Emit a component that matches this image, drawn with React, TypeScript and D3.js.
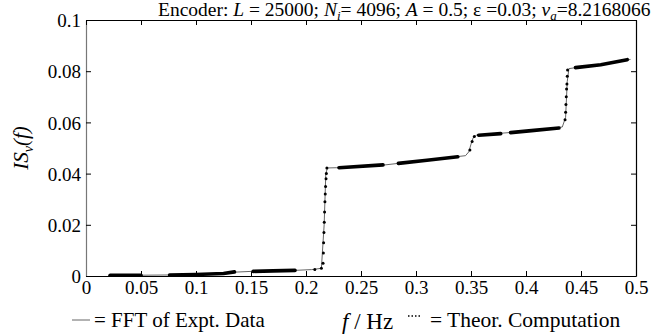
import React, { useEffect, useRef } from 'react';
import * as d3 from 'd3';

const xTicks = [0, 0.05, 0.1, 0.15, 0.2, 0.25, 0.3, 0.35, 0.4, 0.45, 0.5];
const yTicks = [0, 0.02, 0.04, 0.06, 0.08, 0.1];

// FFT of experimental data (thin grey line)
const exptF = [0.02, 0.05, 0.075, 0.1, 0.135, 0.15, 0.19, 0.205, 0.214, 0.2165, 0.218, 0.2195, 0.228, 0.27, 0.3, 0.345, 0.348, 0.35, 0.352, 0.355, 0.39, 0.433, 0.436, 0.4375, 0.439, 0.447, 0.47, 0.495];
const exptV = [0.0003, 0.0003, 0.0004, 0.0006, 0.0015, 0.0018, 0.0022, 0.0025, 0.003, 0.02, 0.04, 0.0422, 0.0423, 0.0433, 0.0448, 0.047, 0.0485, 0.0515, 0.054, 0.055, 0.0562, 0.0582, 0.062, 0.076, 0.081, 0.0815, 0.0828, 0.0846];

// theoretical computation: runs of dense dots
const theorRun1 = [[0.022, 0.0003], [0.05, 0.0003]];
const theorRun2 = [[0.076, 0.0004], [0.1, 0.0006], [0.125, 0.001], [0.135, 0.0016]];
const theorRun3 = [[0.152, 0.0018], [0.17, 0.002], [0.19, 0.0022]];
const theorRun4 = [[0.23, 0.0423], [0.27, 0.0434]];
const theorRun5 = [[0.284, 0.044], [0.31, 0.0452], [0.338, 0.0466]];
const theorRun6 = [[0.357, 0.055], [0.377, 0.0556]];
const theorRun7 = [[0.386, 0.056], [0.405, 0.0568], [0.43, 0.0578]];
const theorRun8 = [[0.445, 0.0814], [0.468, 0.0825], [0.492, 0.0845]];
const theorRuns = [theorRun1, theorRun2, theorRun3, theorRun4, theorRun5, theorRun6, theorRun7, theorRun8];

// single dots along the jumps
const jumpF = [0.208, 0.214, 0.2155, 0.2158, 0.216, 0.2163, 0.2166, 0.2169, 0.2172, 0.2175, 0.2178, 0.2182, 0.2185, 0.219, 0.349, 0.351, 0.353, 0.4355, 0.436, 0.4363, 0.4366, 0.4369, 0.4372, 0.4375, 0.4378];
const jumpV = [0.0025, 0.003, 0.005, 0.009, 0.013, 0.017, 0.021, 0.025, 0.029, 0.032, 0.035, 0.038, 0.04, 0.0422, 0.0492, 0.0525, 0.0545, 0.061, 0.064, 0.067, 0.07, 0.073, 0.075, 0.078, 0.0805];

const serif = '"Liberation Serif", "Times New Roman", serif';

export default function App() {
  const ref = useRef<SVGSVGElement>(null);

  useEffect(() => {
    const width = 664;
    const height = 336;
    const margin = { top: 20, right: 28, bottom: 60, left: 86 };
    const innerWidth = width - margin.left - margin.right;
    const innerHeight = height - margin.top - margin.bottom;

    const svg = d3.select(ref.current).attr('width', width).attr('height', height);
    svg.selectAll('*').remove();

    const g = svg.append('g').attr('transform', `translate(${margin.left}, ${margin.top})`);

    const x = d3.scaleLinear().domain([0, 0.5]).range([0, innerWidth]);
    const y = d3.scaleLinear().domain([0, 0.1]).range([innerHeight, 0]);

    const fmt = (d: d3.NumberValue) => String(+d);

    const xAxis = g.append('g').attr('transform', `translate(0, ${innerHeight})`)
      .call(d3.axisBottom(x).tickValues(xTicks).tickFormat(fmt).tickSizeInner(-5).tickSizeOuter(0).tickPadding(5));
    const yAxis = g.append('g')
      .call(d3.axisLeft(y).tickValues(yTicks).tickFormat(fmt).tickSizeInner(-5).tickSizeOuter(0).tickPadding(5));
    const topAxis = g.append('g')
      .call(d3.axisTop(x).tickValues(xTicks).tickFormat(() => '').tickSizeInner(-5).tickSizeOuter(0));
    const rightAxis = g.append('g').attr('transform', `translate(${innerWidth}, 0)`)
      .call(d3.axisRight(y).tickValues(yTicks).tickFormat(() => '').tickSizeInner(-5).tickSizeOuter(0));

    [xAxis, yAxis, topAxis, rightAxis].forEach(a => {
      a.attr('font-family', null).attr('font-size', null);
      a.selectAll('path').attr('stroke', '#000').attr('stroke-width', 1.2);
      a.selectAll('line').attr('stroke', '#000');
      a.selectAll('text').attr('fill', '#000')
        .style('font-family', serif).style('font-size', '19px');
    });
    yAxis.select('path').attr('stroke', '#777');
    yAxis.selectAll('text').attr('dy', '0.35em');

    // experimental curve
    const line = d3.line<number>().x((_, i) => x(exptF[i])).y(d => y(d));
    g.append('path').datum(exptV).attr('d', line).attr('fill', 'none')
      .attr('stroke', '#555').attr('stroke-width', 0.9);

    // theoretical runs
    const runLine = d3.line<number[]>().x(d => x(d[0])).y(d => y(d[1]));
    g.selectAll('.run').data(theorRuns).join('path').attr('class', 'run')
      .attr('d', runLine).attr('fill', 'none').attr('stroke', '#000')
      .attr('stroke-width', 3.6).attr('stroke-linecap', 'round');

    g.selectAll('.jdot').data(jumpV).join('circle').attr('class', 'jdot')
      .attr('cx', (_, i) => x(jumpF[i])).attr('cy', d => y(d)).attr('r', 1.5).attr('fill', '#000');

    // title
    const title = svg.append('text').attr('x', 158).attr('y', 16)
      .style('font-family', serif).style('font-size', '19.5px').attr('fill', '#000');
    title.append('tspan').text('Encoder: ');
    title.append('tspan').style('font-style', 'italic').text('L');
    title.append('tspan').text(' = 25000; ');
    title.append('tspan').style('font-style', 'italic').text('N');
    title.append('tspan').style('font-style', 'italic').style('font-size', '13px').attr('dy', 4).text('i');
    title.append('tspan').attr('dy', -4).text('= 4096; ');
    title.append('tspan').style('font-style', 'italic').text('A');
    title.append('tspan').text(' = 0.5; ε =0.03; ');
    title.append('tspan').style('font-style', 'italic').text('v');
    title.append('tspan').style('font-style', 'italic').style('font-size', '13px').attr('dy', 4).text('a');
    title.append('tspan').attr('dy', -4).text('=8.2168066');

    // y label
    const ylab = svg.append('text').attr('transform', `translate(28, ${margin.top + y(0.05)}) rotate(-90)`)
      .attr('text-anchor', 'middle').style('font-family', serif).style('font-size', '21px')
      .style('font-style', 'italic').attr('fill', '#000');
    ylab.append('tspan').text('IS');
    ylab.append('tspan').style('font-size', '14px').attr('dy', 5).text('v');
    ylab.append('tspan').attr('dy', -5).text('(f)');

    // bottom legend and x label
    const by = 327;
    svg.append('line').attr('x1', 72).attr('x2', 90).attr('y1', by - 7).attr('y2', by - 7)
      .attr('stroke', '#666').attr('stroke-width', 1);
    svg.append('text').attr('x', 94).attr('y', by).style('font-family', serif).style('font-size', '21px')
      .text('= FFT of Expt. Data');

    const xlab = svg.append('text').attr('x', 342).attr('y', by + 2).style('font-family', serif).style('font-size', '23px');
    xlab.append('tspan').style('font-style', 'italic').text('f');
    xlab.append('tspan').text(' / Hz');

    svg.append('line').attr('x1', 408).attr('x2', 422).attr('y1', by - 11).attr('y2', by - 11)
      .attr('stroke', '#000').attr('stroke-width', 1.5).attr('stroke-dasharray', '1.5,2');
    svg.append('text').attr('x', 430).attr('y', by)
      .style('font-family', serif).style('font-size', '21.5px')
      .text('= Theor. Computation');
  }, []);

  return (
    <div style={{ position: 'absolute', left: 0, top: 0 }}>
      <svg ref={ref} style={{ display: 'block', background: '#fff' }} />
    </div>
  );
}
